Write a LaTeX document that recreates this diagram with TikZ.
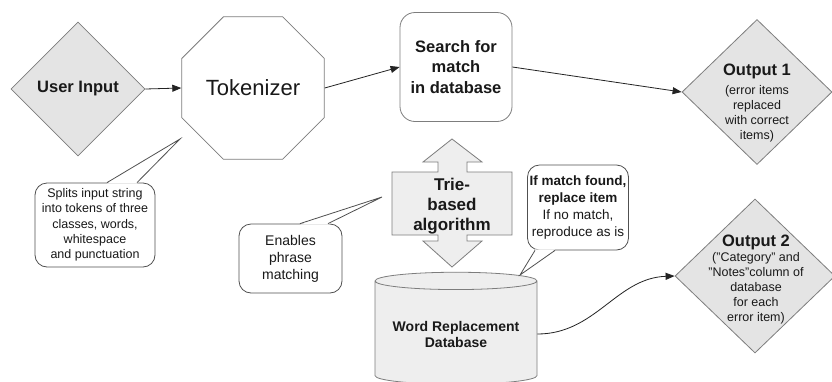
\documentclass[tikz,border=0pt]{standalone}
\usepackage{fontspec}
\setmainfont{Liberation Sans}
\usetikzlibrary{positioning,arrows.meta,calc,shapes.geometric}
\definecolor{fcBorder}{RGB}{125,125,125}
\definecolor{fcFill}{RGB}{228,228,228}
\definecolor{fcLight}{RGB}{238,238,238}
\definecolor{fcLine}{RGB}{35,35,35}
\definecolor{fcNote}{RGB}{80,80,80}
\definecolor{fcText}{RGB}{25,25,25}

\begin{document}
\begin{tikzpicture}[x=1pt, y=-1pt,
    flowline/.style={draw=fcLine, line width=0.8pt},
    flowarrow/.style={flowline, -{Triangle[length=9pt,width=7pt]}},
    diamondbox/.style={diamond, draw=fcBorder, fill=fcFill, line width=0.8pt, inner sep=0pt, text=fcText},
    octbox/.style={regular polygon, regular polygon sides=8, draw=fcBorder, fill=white, line width=0.8pt, text=fcText},
    searchbox/.style={rectangle, rounded corners=15pt, draw=fcBorder, fill=white, line width=0.8pt, align=center, text=fcText},
    triebox/.style={draw=fcBorder, fill=fcLight, line width=0.8pt},
    dbbox/.style={cylinder, shape border rotate=90, aspect=0.13, draw=fcBorder, fill=fcLight, line width=0.8pt, align=center, text=fcText},
    notebox/.style={rectangle, rounded corners=12pt, draw=fcNote, fill=white, line width=0.8pt, align=center, inner sep=1pt, text=fcText},
    notepointer/.style={draw=fcNote, line width=0.8pt, line join=miter},
    outtext/.style={align=center, inner sep=0pt, text=fcText, font=\fontsize{12.5}{15}\selectfont},
    bigbold/.style={font=\fontsize{16.5}{20.5}\selectfont\bfseries}
  ]
  \useasboundingbox (0,0) rectangle (832,381);
  \fill[white] (0,0) rectangle (832,381);

  % Main flow
  \node[diamondbox, minimum width=134pt, minimum height=134pt, bigbold] (user) at (78,89) {User Input};
  \node[octbox, minimum size=136pt, font=\fontsize{22}{26}\selectfont] (tok) at (253,88) {Tokenizer};
  \node[searchbox, minimum width=112pt, minimum height=109pt, bigbold] (search) at (456,67) {Search for\\match\\in database};
  \node[diamondbox, minimum width=150pt, minimum height=145pt] (out1) at (757,92) {};
  \node[outtext] (out1text) at (757,103) {{\fontsize{16.5}{20}\selectfont\bfseries Output 1}\\[4pt]
    (error items\\replaced\\with correct\\items)};

  \draw[flowarrow] (user.east) -- (tok.west);
  \draw[flowarrow] (tok.east) -- (search.west);
  \draw[flowarrow] (search.east) -- (out1.west);

  % Trie double arrow
  \draw[triebox] (452,139) -- (482,162) -- (467,162) -- (467,172) -- (512,172) -- (512,235)
    -- (467,235) -- (467,241) -- (482,241) -- (452,267) -- (423,241) -- (438,241)
    -- (438,235) -- (392,235) -- (392,172) -- (438,172) -- (438,162) -- (423,162) -- cycle;
  \node[align=center, text=fcText, font=\fontsize{17}{20}\selectfont\bfseries] (trie) at (452,206) {Trie-\\based\\algorithm};

  % Database and second output
  \node[dbbox, minimum width=162pt, minimum height=112pt, font=\fontsize{14}{16}\selectfont\bfseries] (db) at (456,334) {Word Replacement\\Database};
  \node[diamondbox, minimum width=160pt, minimum height=154pt] (out2) at (755,276) {};
  \node[outtext] (out2text) at (756,279.5) {{\fontsize{16.5}{20}\selectfont\bfseries Output 2}\\
    ("Category" and\\"Notes"column of\\database\\for each\\error item)};
  \draw[flowarrow] (db.east) to[out=0, in=182] (out2.west);

  % Callouts
  \coordinate (tipA) at (180,139);
  \coordinate (tipB) at (382,197);
  \coordinate (tipC) at (520,275);

  \node[notebox, minimum width=120pt, minimum height=84pt, font=\fontsize{12.5}{15.3}\selectfont] (split) at (95,225)
    {Splits input string\\into tokens of three\\classes, words,\\whitespace\\and punctuation};
  \fill[white] ($(split.north)+(12,1)$) -- (tipA) -- ($(split.north)+(42,1)$) -- cycle;
  \draw[notepointer] ($(split.north)+(12,0)$) -- (tipA) -- ($(split.north)+(42,0)$);

  \node[notebox, minimum width=103pt, minimum height=69pt, font=\fontsize{14}{17}\selectfont] (phrase) at (290.5,258.5)
    {Enables\\phrase\\matching};
  \fill[white] ($(phrase.north)+(9.5,1)$) -- (tipB) -- ($(phrase.north)+(37.5,1)$) -- cycle;
  \draw[notepointer] ($(phrase.north)+(9.5,0)$) -- (tipB) -- ($(phrase.north)+(37.5,0)$);

  \node[notebox, minimum width=101pt, minimum height=85pt, inner sep=0pt, font=\fontsize{13.5}{17}\selectfont] (match) at (578,207.5)
    {\textbf{If match found,}\\\textbf{replace item}\\If no match,\\reproduce as is};
  \fill[white] ($(match.south)+(-43,-1)$) -- (tipC) -- ($(match.south)+(-23,-1)$) -- cycle;
  \draw[notepointer] ($(match.south)+(-43,0)$) -- (tipC) -- ($(match.south)+(-23,0)$);
\end{tikzpicture}
\end{document}
